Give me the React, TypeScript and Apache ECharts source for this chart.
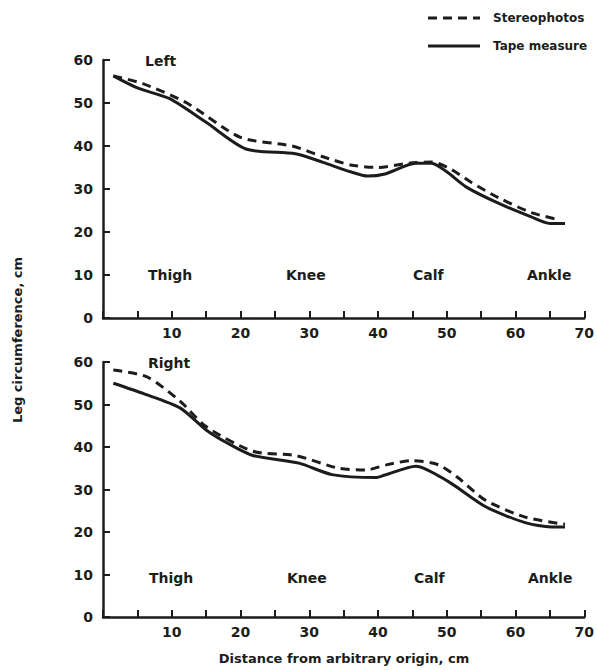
import React, { useEffect, useRef } from "react";
import * as echarts from "echarts";

const xTicks = [0, 10, 20, 30, 40, 50, 60, 70];
const yTicks = [0, 10, 20, 30, 40, 50, 60];
const seriesNames = ["Stereophotos", "Tape measure"];
const regionLabels = ["Thigh", "Knee", "Calf", "Ankle"];
const panelTitles = ["Left", "Right"];

const leftStereo: number[][] = [
  [1.5, 56.3], [5.8, 54.5], [12.2, 50], [20, 42], [27.5, 40], [32, 37.5], [36, 35.6],
  [40, 35], [44.5, 36], [47.8, 36.3], [50.7, 34.5], [53.6, 31.5], [57.5, 28],
  [62.3, 24.5], [66.5, 22.8],
];
const leftTape: number[][] = [
  [1.5, 56.3], [5, 53.5], [9.7, 51], [15, 45.5], [20.8, 39.3], [28, 38.2], [32, 36.2],
  [36, 34], [38.5, 33], [41, 33.5], [45.5, 36], [47.8, 36], [50, 34], [52.8, 30.5],
  [57.5, 26.7], [62.3, 23.5], [65, 22], [67.2, 22],
];
const rightStereo: number[][] = [
  [1.5, 58.1], [6.4, 56.5], [11.2, 50.8], [15, 44.8], [21.8, 39], [28, 38], [34.3, 35],
  [38.3, 34.6], [41.2, 35.8], [45, 36.8], [48.8, 35.8], [51.7, 32.7], [55.6, 27.5],
  [61.4, 23.5], [67.2, 21.8],
];
const rightTape: number[][] = [
  [1.5, 55], [6, 52.5], [11.2, 49.2], [15, 44], [18, 41], [21.8, 38], [28.5, 36.2],
  [33.3, 33.5], [39.7, 32.8], [41, 33.4], [45.5, 35.5], [50.3, 31.8], [55.6, 26],
  [61.4, 22.2], [65.2, 21.2], [67.2, 21.2],
];

const INK = "#1b1d1a";
const FONT = "DejaVu Sans";
const DASH = [9, 6];

export default function App() {
  const ref = useRef<HTMLDivElement>(null);
  useEffect(() => {
    if (!ref.current) return;
    const chart = echarts.init(ref.current, undefined, { renderer: "svg" });
    const grids = [
      { left: 103, top: 60, width: 483, height: 258 },
      { left: 103, top: 362, width: 483, height: 255 },
    ];
    const mkX = (gi: number) => ({
      type: "value",
      gridIndex: gi,
      min: xTicks[0],
      max: xTicks[xTicks.length - 1],
      interval: 5,
      axisLine: { show: true, lineStyle: { color: INK, width: 2.5 } },
      axisTick: { show: true, inside: true, length: 7, lineStyle: { color: INK, width: 2 } },
      splitLine: { show: false },
      axisLabel: {
        margin: 8,
        color: INK,
        fontFamily: FONT,
        fontWeight: "bold",
        fontSize: 14,
        formatter: (v: number) => (v !== 0 && xTicks.includes(v) ? String(v) : ""),
      },
    });
    const mkY = (gi: number) => ({
      type: "value",
      gridIndex: gi,
      min: yTicks[0],
      max: yTicks[yTicks.length - 1],
      interval: 10,
      axisLine: { show: true, lineStyle: { color: INK, width: 2.5 } },
      axisTick: { show: true, inside: true, length: 7, lineStyle: { color: INK, width: 2 } },
      splitLine: { show: false },
      axisLabel: {
        margin: 10,
        color: INK,
        fontFamily: FONT,
        fontWeight: "bold",
        fontSize: 14,
      },
    });
    const mkSeries = (name: string, data: number[][], gi: number, dashed: boolean) => ({
      type: "line",
      name,
      xAxisIndex: gi,
      yAxisIndex: gi,
      data,
      smooth: 0.25,
      symbol: "none",
      lineStyle: { color: INK, width: 3, type: dashed ? DASH : "solid" },
      itemStyle: { color: INK },
    });
    const txt = (text: string, x: number, y: number, size = 14) => ({
      type: "text",
      x,
      y,
      style: {
        text,
        fill: INK,
        font: `bold ${size}px "${FONT}"`,
        textAlign: "left",
        textVerticalAlign: "middle",
      },
    });
    const regionX = [148, 286, 413, 527];
    const graphics: any[] = [
      txt(panelTitles[0], 145, 61),
      txt(panelTitles[1], 148, 363),
    ];
    regionLabels.forEach((r, i) => {
      graphics.push(txt(r, regionX[i], 275));
      graphics.push(txt(r, regionX[i] + 1, 578));
    });
    // legend
    const legendY = [18, 46];
    seriesNames.forEach((n, i) => {
      graphics.push({
        type: "line",
        shape: { x1: 428, y1: legendY[i], x2: 480, y2: legendY[i] },
        style: { stroke: INK, lineWidth: 3, lineDash: i === 0 ? DASH : null },
      });
      graphics.push(txt(n, 493, legendY[i], 12));
    });
    graphics.push({
      type: "text",
      x: 344,
      y: 658,
      style: {
        text: "Distance from arbitrary origin, cm",
        fill: INK,
        font: `bold 13px "${FONT}"`,
        textAlign: "center",
        textVerticalAlign: "middle",
      },
    });
    graphics.push({
      type: "text",
      x: 17,
      y: 340,
      rotation: Math.PI / 2,
      style: {
        text: "Leg circumference, cm",
        fill: INK,
        font: `bold 13px "${FONT}"`,
        textAlign: "center",
        textVerticalAlign: "middle",
      },
    });
    chart.setOption({
      animation: false,
      backgroundColor: "#ffffff",
      grid: grids,
      xAxis: [mkX(0), mkX(1)],
      yAxis: [mkY(0), mkY(1)],
      series: [
        mkSeries(seriesNames[0], leftStereo, 0, true),
        mkSeries(seriesNames[1], leftTape, 0, false),
        mkSeries(seriesNames[0], rightStereo, 1, true),
        mkSeries(seriesNames[1], rightTape, 1, false),
      ],
      graphic: graphics,
    });
    return () => chart.dispose();
  }, []);
  return (
    <div
      ref={ref}
      style={{ position: "absolute", left: 0, top: 0, width: 597, height: 670, background: "#fff" }}
    />
  );
}
